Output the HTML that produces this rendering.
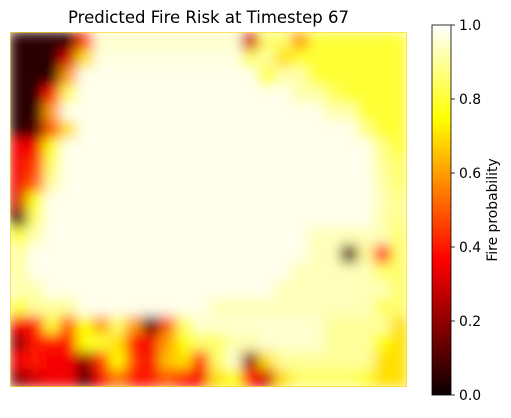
<!DOCTYPE html>
<html><head><meta charset="utf-8"><style>
body{margin:0;background:#fff;}
svg text{font-family:"DejaVu Sans","Liberation Sans",sans-serif;fill:#000;}
</style></head><body>
<svg id="chart" width="511" height="413" viewBox="0 0 511 413" xmlns="http://www.w3.org/2000/svg">
<defs>
<filter id="blur" filterUnits="userSpaceOnUse" x="10" y="32" width="397" height="355"><feGaussianBlur stdDeviation="6" edgeMode="duplicate"/></filter>
<clipPath id="clip"><rect x="10" y="32" width="397" height="355"/></clipPath>
<linearGradient id="cbgrad" x1="0" y1="1" x2="0" y2="0">
<stop offset="0" stop-color="#0b0000"/><stop offset="0.365" stop-color="#ff0000"/>
<stop offset="0.746" stop-color="#ffff00"/><stop offset="1" stop-color="#ffffff"/>
</linearGradient>
</defs>
<text x="208.5" y="23" font-size="16.5" text-anchor="middle">Predicted Fire Risk at Timestep 67</text>
<g clip-path="url(#clip)"><g id="cells" filter="url(#blur)"></g></g>
<rect x="10.5" y="32.5" width="396" height="354" fill="none" stroke="#ffd000" stroke-width="1" opacity="0.6"/>
<rect x="432" y="25" width="19" height="370" fill="url(#cbgrad)" stroke="#000" stroke-width="0.8"/>
<g id="cbticks"></g>
<text transform="translate(497,210) rotate(-90)" font-size="13.9" text-anchor="middle">Fire probability</text>
</svg>
<script>
const grid = [
[0.05,0.05,0.05,0.05,0.45,0.95,0.95,0.95,0.95,0.95,0.95,0.95,0.95,0.95,0.3,0.85,0.85,0.6,0.8,0.8,0.8,0.8,0.8,0.8],
[0.05,0.05,0.05,0.3,0.7,0.97,0.97,0.97,0.97,0.97,0.97,0.97,0.97,0.97,0.85,0.9,0.7,0.8,0.8,0.8,0.8,0.8,0.8,0.8],
[0.05,0.05,0.05,0.6,0.98,0.98,0.98,0.98,0.98,0.98,0.98,0.98,0.98,0.98,0.98,0.8,0.92,0.92,0.8,0.8,0.8,0.8,0.8,0.8],
[0.05,0.05,0.4,0.85,0.98,0.98,0.98,0.98,0.98,0.98,0.98,0.98,0.98,0.98,0.98,0.98,0.98,0.92,0.92,0.85,0.8,0.8,0.8,0.8],
[0.05,0.05,0.6,0.98,0.98,0.98,0.98,0.98,0.98,0.98,0.98,0.98,0.98,0.98,0.98,0.98,0.98,0.98,0.98,0.92,0.92,0.8,0.8,0.8],
[0.05,0.1,0.5,0.7,0.98,0.98,0.98,0.98,0.98,0.98,0.98,0.98,0.98,0.98,0.98,0.98,0.98,0.98,0.98,0.98,0.98,0.88,0.8,0.8],
[0.35,0.35,0.75,0.98,0.98,0.98,0.98,0.98,0.98,0.98,0.98,0.98,0.98,0.98,0.98,0.98,0.98,0.98,0.98,0.98,0.98,0.98,0.88,0.8],
[0.35,0.45,0.85,0.98,0.98,0.98,0.98,0.98,0.98,0.98,0.98,0.98,0.98,0.98,0.98,0.98,0.98,0.98,0.98,0.98,0.98,0.98,0.9,0.85],
[0.35,0.5,0.9,0.98,0.98,0.98,0.98,0.98,0.98,0.98,0.98,0.98,0.98,0.98,0.98,0.98,0.98,0.98,0.98,0.98,0.98,0.98,0.92,0.85],
[0.3,0.75,0.98,0.98,0.98,0.98,0.98,0.98,0.98,0.98,0.98,0.98,0.98,0.98,0.98,0.98,0.98,0.98,0.98,0.98,0.98,0.98,0.93,0.88],
[0.1,0.85,0.98,0.98,0.98,0.98,0.98,0.98,0.98,0.98,0.98,0.98,0.98,0.98,0.98,0.98,0.98,0.98,0.98,0.98,0.98,0.98,0.92,0.88],
[0.8,0.92,0.98,0.98,0.98,0.98,0.98,0.98,0.98,0.98,0.98,0.98,0.98,0.98,0.98,0.98,0.98,0.98,0.93,0.93,0.93,0.93,0.93,0.85],
[0.9,0.98,0.98,0.98,0.98,0.98,0.98,0.98,0.98,0.98,0.98,0.98,0.98,0.98,0.98,0.98,0.98,0.98,0.93,0.93,0.1,0.9,0.4,0.85],
[0.9,0.98,0.98,0.98,0.98,0.98,0.98,0.98,0.98,0.98,0.98,0.98,0.98,0.98,0.98,0.98,0.98,0.93,0.93,0.93,0.93,0.93,0.85,0.85],
[0.92,0.92,0.98,0.98,0.98,0.98,0.98,0.98,0.98,0.98,0.98,0.98,0.98,0.98,0.98,0.98,0.93,0.93,0.93,0.93,0.93,0.93,0.93,0.85],
[0.8,0.9,0.9,0.9,0.98,0.98,0.98,0.98,0.98,0.98,0.98,0.98,0.93,0.93,0.93,0.93,0.93,0.93,0.93,0.93,0.93,0.93,0.85,0.85],
[0.35,0.4,0.8,0.5,0.75,0.6,0.85,0.6,0.1,0.5,0.85,0.95,0.95,0.95,0.95,0.95,0.95,0.95,0.95,0.9,0.9,0.9,0.9,0.7],
[0.2,0.4,0.4,0.4,0.75,0.8,0.7,0.4,0.35,0.6,0.75,0.85,0.85,0.92,0.92,0.95,0.95,0.95,0.95,0.9,0.9,0.9,0.75,0.7],
[0.35,0.4,0.35,0.35,0.2,0.45,0.75,0.45,0.35,0.65,0.7,0.4,0.85,0.95,0.2,0.7,0.9,0.9,0.9,0.9,0.9,0.9,0.7,0.7],
[0.2,0.3,0.35,0.35,0.1,0.35,0.55,0.4,0.4,0.5,0.4,0.35,0.7,0.75,0.4,0.3,0.7,0.85,0.85,0.85,0.85,0.8,0.7,0.7]
];
const cbTicks = [0.0, 0.2, 0.4, 0.6, 0.8, 1.0];
const cbTickLabels = ["0.0","0.2","0.4","0.6","0.8","1.0"];

const NS = "http://www.w3.org/2000/svg";
const X0 = 10, X1 = 407, Y0 = 32, Y1 = 387;
const nRows = grid.length, nCols = grid[0].length;
const xScale = c => X0 + c * (X1 - X0) / nCols;
const yScale = r => Y0 + r * (Y1 - Y0) / nRows;
const cbY = v => 395 - v * 370;
function hot(v) {
  const cl = t => Math.max(0, Math.min(1, t));
  const r = cl(0.0416 + v / 0.365 * (1 - 0.0416));
  const g = cl((v - 0.365) / 0.381);
  const b = cl((v - 0.746) / 0.254);
  return `rgb(${Math.round(r*255)},${Math.round(g*255)},${Math.round(b*255)})`;
}
const cells = document.getElementById('cells');
grid.forEach((row, r) => row.forEach((v, c) => {
  const rect = document.createElementNS(NS, 'rect');
  
  
  rect.setAttribute('x', xScale(c));
  rect.setAttribute('y', yScale(r));
  rect.setAttribute('width', xScale(c + 1) - xScale(c) + 0.5);
  rect.setAttribute('height', yScale(r + 1) - yScale(r) + 0.5);
  rect.setAttribute('fill', hot(v));
  cells.appendChild(rect);
}));
const tg = document.getElementById('cbticks');
cbTicks.forEach((t, i) => {
  const y = cbY(t);
  const ln = document.createElementNS(NS, 'line');
  
  
  ln.setAttribute('x1', 451); ln.setAttribute('x2', 455);
  ln.setAttribute('y1', y); ln.setAttribute('y2', y);
  ln.setAttribute('stroke', '#000'); ln.setAttribute('stroke-width', '0.8');
  tg.appendChild(ln);
  const tx = document.createElementNS(NS, 'text');
  
  
  tx.setAttribute('x', 459); tx.setAttribute('y', y + 5);
  tx.setAttribute('font-size', '13.9');
  tx.textContent = cbTickLabels[i];
  tg.appendChild(tx);
});
</script>
</body></html>
